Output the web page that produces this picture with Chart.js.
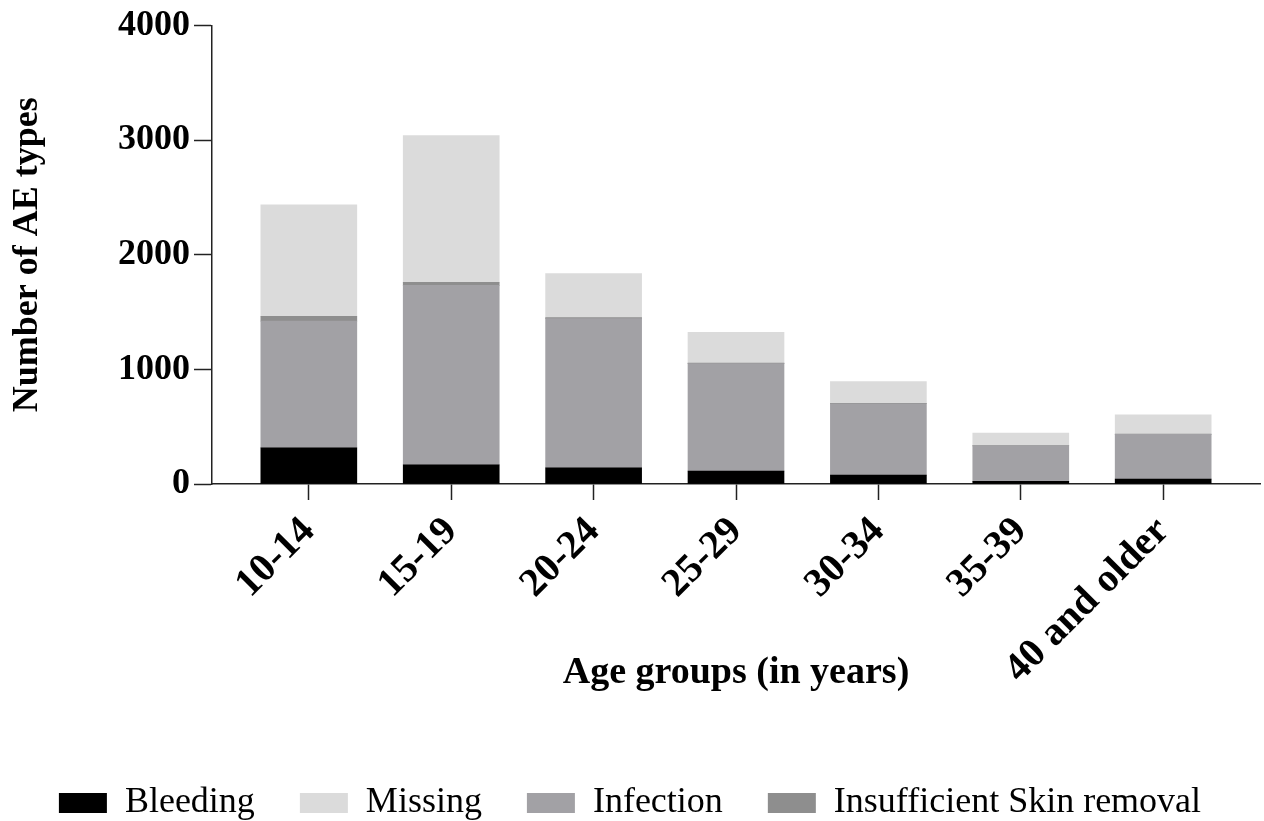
<!DOCTYPE html>
<html>
<head>
<meta charset="utf-8">
<title>AE types by age group</title>
<script src="https://cdn.jsdelivr.net/npm/chart.js@4.4.1/dist/chart.umd.min.js"></script>
<style>
  html, body { margin: 0; padding: 0; background: #fff; }
  #wrap { width: 1264px; height: 821px; position: relative; }
</style>
</head>
<body>
<div id="wrap"><canvas id="ae-chart"></canvas></div>
<script>
// valores
const ageGroups = ["10-14", "15-19", "20-24", "25-29", "30-34", "35-39", "40 and older"];
const bleeding = [315, 167, 141, 113, 78, 23, 43];
const infection = [1106, 1566, 1302, 937, 622, 310, 390];
const insufficientSkin = [43, 26, 10, 5, 5, 2, 3];
const missing = [971, 1282, 384, 268, 188, 110, 168];
const yTicks = [0, 1000, 2000, 3000, 4000];
const legendOrder = ["Bleeding", "Missing", "Infection", "Insufficient Skin removal"];

const serif = "'Liberation Serif', 'Times New Roman', serif";
Chart.defaults.font.family = serif;
Chart.defaults.color = "#000";

// pasar a puntos {x, y} para usar eje x lineal
function toPoints(values) {
    return values.map((v, i) => ({ x: i, y: v }));
}

function makeDataset(label, values, color) {
    return {
        label: label,
        data: toPoints(values),
        backgroundColor: color,
        borderWidth: 0,
        barThickness: 96
    };
}

const chartDOM = document.getElementById("ae-chart");

const config = {
    type: "bar",
    data: {
        // orden de apilado: de abajo hacia arriba
        datasets: [
            makeDataset("Bleeding", bleeding, "#000000"),
            makeDataset("Infection", infection, "#a2a1a5"),
            makeDataset("Insufficient Skin removal", insufficientSkin, "#8e8e8e"),
            makeDataset("Missing", missing, "#dbdbdb")
        ]
    },
    options: {
        responsive: true,
        maintainAspectRatio: false,
        animation: false,
        layout: {
            padding: { top: 22, right: 4, bottom: -10, left: 0 }
        },
        plugins: {
            tooltip: { enabled: false },
            legend: {
                position: "bottom",
                labels: {
                    boxWidth: 48,
                    boxHeight: 20,
                    padding: 45,
                    color: "#000",
                    font: { size: 36, family: serif },
                    sort: (a, b) => legendOrder.indexOf(a.text) - legendOrder.indexOf(b.text)
                }
            }
        },
        scales: {
            x: {
                type: "linear",
                stacked: true,
                offset: false,
                min: -0.68,
                max: 6.68,
                afterBuildTicks: (scale) => {
                    scale.ticks = ageGroups.map((_, i) => ({ value: i }));
                },
                afterFit: (scale) => {
                    scale.height = 256;
                },
                ticks: {
                    autoSkip: false,
                    maxRotation: 45,
                    minRotation: 45,
                    padding: 8,
                    color: "#000",
                    font: { size: 40, weight: "bold", family: serif },
                    callback: (value) => ageGroups[value]
                },
                grid: {
                    offset: false,
                    drawOnChartArea: false,
                    drawTicks: true,
                    tickLength: 16,
                    tickWidth: 1.5,
                    color: "#222"
                },
                border: { display: true, color: "#222", width: 1.5 },
                title: {
                    display: true,
                    text: "Age groups (in years)",
                    color: "#000",
                    font: { size: 38, weight: "bold", family: serif },
                    padding: { top: 0, bottom: 44 }
                }
            },
            y: {
                stacked: true,
                min: 0,
                max: 4000,
                afterBuildTicks: (scale) => {
                    scale.ticks = yTicks.map(v => ({ value: v }));
                },
                afterFit: (scale) => {
                    scale.width = 212;
                },
                ticks: {
                    padding: 4,
                    color: "#000",
                    font: { size: 36, weight: "bold", family: serif },
                    callback: (value) => String(value)
                },
                grid: {
                    drawOnChartArea: false,
                    drawTicks: true,
                    tickLength: 18,
                    tickWidth: 1.5,
                    color: "#222"
                },
                border: { display: true, color: "#222", width: 1.5 },
                title: {
                    display: true,
                    text: "Number of AE types",
                    color: "#000",
                    font: { size: 36, weight: "bold", family: serif },
                    padding: { top: 6, bottom: 0 }
                }
            }
        }
    }
};

const chart = new Chart(chartDOM, config);
</script>
</body>
</html>
